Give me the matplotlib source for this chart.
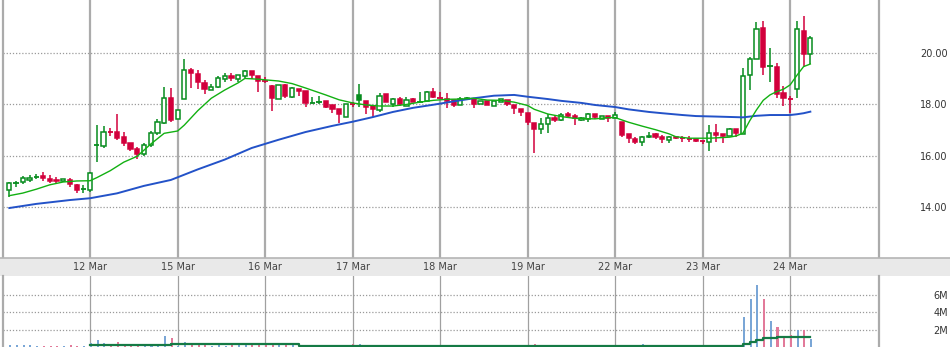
import matplotlib
matplotlib.use("Agg")
import matplotlib.pyplot as plt
import matplotlib.transforms as mtransforms
from matplotlib.patches import Rectangle

# 30-minute candles, 13 per day (first day partial)
opens = [14.66, 14.94, 14.97, 15.05, 15.19, 15.23, 15.11, 15.05, 15.01, 15.06, 14.85, 14.70,
         14.67, 16.42, 16.39, 16.92, 16.91, 16.74, 16.51, 16.26, 16.06, 16.40, 16.87, 17.26, 18.23,
         17.41, 18.19, 19.33, 19.17, 18.82, 18.56, 18.68, 18.98, 19.11, 18.98, 19.11, 19.30, 19.11,
         18.90, 18.71, 18.20, 18.75, 18.29, 18.60, 18.53, 18.06, 18.10, 18.13, 17.95, 17.80, 17.52,
         17.99, 18.35, 18.13, 17.93, 17.76, 18.40, 18.01, 18.20, 17.94, 18.19, 18.10, 18.14, 18.46,
         18.25, 18.19, 18.15, 17.96, 18.26, 18.19, 18.00, 18.13, 17.93,
         18.10, 18.15, 17.97, 17.82, 17.66, 17.27, 17.03, 17.22, 17.45, 17.38, 17.63, 17.54, 17.38,
         17.43, 17.61, 17.43, 17.54, 17.48, 17.31, 16.86, 16.63, 16.52, 16.78, 16.83, 16.73, 16.62,
         16.73, 16.67, 16.66, 16.66, 16.56, 16.52, 16.88, 16.85, 16.78, 17.03, 16.86, 19.15, 19.77,
         20.95, 19.47, 19.46, 18.42, 18.20, 18.58, 20.84, 19.95]
highs = [14.99, 15.01, 15.22, 15.24, 15.28, 15.37, 15.27, 15.19, 15.09, 15.14, 14.91, 14.85,
         15.37, 17.19, 17.16, 17.07, 17.62, 16.92, 16.51, 16.33, 16.48, 16.95, 17.42, 18.66, 18.62,
         17.78, 19.76, 19.39, 19.33, 18.94, 18.77, 19.11, 19.20, 19.22, 19.13, 19.33, 19.30, 19.11,
         19.07, 18.75, 18.75, 18.78, 18.67, 18.60, 18.53, 18.27, 18.31, 18.13, 17.95, 17.80, 18.00,
         18.10, 18.78, 18.13, 17.93, 18.42, 18.40, 18.23, 18.27, 18.27, 18.23, 18.46, 18.51, 18.62,
         18.46, 18.42, 18.15, 18.29, 18.29, 18.19, 18.13, 18.13, 18.13,
         18.22, 18.15, 17.97, 17.82, 17.66, 17.27, 17.45, 17.62, 17.54, 17.66, 17.71, 17.62, 17.50,
         17.64, 17.61, 17.55, 17.54, 17.71, 17.31, 16.86, 16.73, 16.77, 16.92, 16.90, 16.81, 16.77,
         16.78, 16.77, 16.77, 16.66, 16.58, 17.19, 17.23, 16.85, 17.07, 17.03, 19.39, 19.84, 21.20,
         21.23, 20.17, 19.60, 18.72, 18.31, 21.23, 21.42, 20.64]
lows = [14.39, 14.80, 14.91, 14.97, 15.10, 15.03, 14.93, 14.91, 14.99, 14.79, 14.57, 14.57,
        14.60, 15.77, 16.29, 16.77, 16.61, 16.39, 16.20, 15.86, 15.99, 16.35, 16.81, 17.23, 17.32,
        17.41, 18.19, 18.64, 18.59, 18.38, 18.55, 18.62, 18.87, 18.91, 18.85, 19.03, 18.98, 18.49,
        18.84, 17.75, 18.20, 18.23, 18.23, 18.33, 17.90, 18.06, 18.00, 17.87, 17.67, 17.26, 17.52,
        17.90, 17.88, 17.61, 17.52, 17.69, 18.10, 17.90, 17.94, 17.94, 18.08, 18.10, 18.14, 18.23,
        18.25, 17.84, 17.90, 17.96, 18.16, 17.87, 18.00, 17.97, 17.93,
        18.10, 17.94, 17.62, 17.54, 17.19, 16.12, 16.84, 16.90, 17.30, 17.35, 17.50, 17.19, 17.36,
        17.30, 17.43, 17.43, 17.30, 17.48, 16.74, 16.51, 16.46, 16.38, 16.70, 16.65, 16.51, 16.51,
        16.64, 16.55, 16.55, 16.53, 16.44, 16.20, 16.52, 16.51, 16.78, 16.74, 16.86, 18.55, 19.77,
        19.13, 18.87, 18.23, 17.94, 17.66, 18.23, 19.43, 19.56]
closes = [14.94, 14.94, 15.13, 15.15, 15.19, 15.13, 15.03, 15.02, 15.09, 14.91, 14.67, 14.70,
          15.32, 16.42, 16.93, 16.92, 16.70, 16.48, 16.26, 16.08, 16.42, 16.87, 17.31, 18.23, 17.39,
          17.78, 19.33, 19.22, 18.87, 18.60, 18.67, 19.01, 19.08, 19.01, 19.13, 19.30, 19.13, 18.91,
          18.90, 18.23, 18.75, 18.33, 18.62, 18.53, 18.06, 18.06, 18.10, 17.90, 17.82, 17.62, 18.00,
          17.99, 18.16, 17.90, 17.82, 18.33, 18.10, 18.19, 18.00, 18.18, 18.08, 18.10, 18.46, 18.29,
          18.25, 18.13, 17.97, 18.19, 18.20, 18.00, 18.13, 17.97, 18.13,
          18.19, 18.00, 17.87, 17.71, 17.32, 17.04, 17.22, 17.45, 17.38, 17.57, 17.53, 17.45, 17.46,
          17.61, 17.52, 17.53, 17.48, 17.58, 16.81, 16.68, 16.52, 16.72, 16.73, 16.71, 16.65, 16.73,
          16.68, 16.67, 16.66, 16.59, 16.56, 16.87, 16.81, 16.78, 17.03, 16.87, 19.08, 19.74, 20.91,
          19.46, 19.47, 18.40, 18.25, 18.20, 20.91, 19.96, 20.56]

# volume in millions
volumes = [0.23, 0.23, 0.23, 0.23, 0.12, 0.12, 0.12, 0.12, 0.12, 0.23, 0.12, 0.12,
           0.45, 0.80, 0.45, 0.34, 0.57, 0.34, 0.15, 0.15, 0.15, 0.34, 0.34, 1.25, 1.00,
           0.15, 0.57, 0.45, 0.26, 0.26, 0.11, 0.26, 0.11, 0.26, 0.26, 0.26, 0.26, 0.26,
           0.26, 0.45, 0.26, 0.26, 0.26, 0.12, 0.12, 0.10, 0.12, 0.12, 0.10, 0.12, 0.12,
           0.34, 0.34, 0.12, 0.10, 0.12, 0.12, 0.10, 0.12, 0.10, 0.12, 0.12, 0.10, 0.12,
           0.15, 0.12, 0.10, 0.12, 0.10, 0.12, 0.10, 0.12, 0.10,
           0.12, 0.10, 0.12, 0.12, 0.10, 0.34, 0.12, 0.10, 0.12, 0.10, 0.12, 0.10, 0.12,
           0.10, 0.12, 0.10, 0.12, 0.10, 0.15, 0.12, 0.10, 0.34, 0.12, 0.10, 0.12, 0.10,
           0.12, 0.10, 0.12, 0.10, 0.12, 0.15, 0.12, 0.10, 0.12, 0.12, 3.40, 5.55, 7.13,
           5.55, 2.94, 2.26, 1.10, 1.36, 2.00, 2.00, 0.90]

# short (green) and long (blue) moving averages, read at candle indices
ma_short_idx = [0, 2, 4, 6, 8, 10, 12, 13, 15, 17, 19, 21, 23, 25, 26, 28, 30, 32, 34, 35, 37,
                40, 42, 44, 47, 49, 51, 53, 55, 57, 59, 61, 63, 65, 67, 69, 71, 73, 75, 77, 78,
                80, 82, 84, 87, 89, 90, 92, 94, 96, 98, 99, 101, 104, 107, 108, 109, 110, 111,
                112, 113, 114, 115, 116, 117, 118, 119]
ma_short = [14.45, 14.55, 14.70, 14.87, 14.98, 15.02, 15.03, 15.15, 15.42, 15.75, 15.98, 16.45,
            16.87, 16.96, 17.19, 17.75, 18.23, 18.55, 18.83, 19.00, 18.97, 18.90, 18.80, 18.63,
            18.36, 18.17, 18.05, 17.97, 17.93, 17.93, 17.99, 18.08, 18.15, 18.19, 18.20, 18.23,
            18.16, 18.15, 18.08, 17.95, 17.80, 17.62, 17.52, 17.45, 17.43, 17.48, 17.48, 17.30,
            17.15, 17.01, 16.85, 16.74, 16.68, 16.68, 16.72, 16.77, 16.88, 17.36, 17.78, 18.15,
            18.36, 18.49, 18.58, 18.75, 19.12, 19.46, 19.56]
ma_long_idx = [0, 4, 9, 12, 16, 20, 24, 28, 32, 36, 40, 44, 48, 51, 54, 57, 60, 63, 66, 69, 72,
               75, 77, 80, 82, 85, 87, 90, 92, 95, 97, 100, 102, 105, 109, 111, 113, 116, 117,
               118, 119]
ma_long = [13.97, 14.13, 14.28, 14.35, 14.54, 14.83, 15.06, 15.47, 15.85, 16.30, 16.62, 16.92,
           17.16, 17.32, 17.50, 17.70, 17.86, 17.98, 18.11, 18.23, 18.33, 18.36, 18.29, 18.20,
           18.13, 18.05, 17.97, 17.89, 17.80, 17.70, 17.65, 17.58, 17.54, 17.52, 17.49, 17.55,
           17.58, 17.58, 17.61, 17.65, 17.71]

# average volume (step line)
vol_avg_idx = [12, 24, 43, 109, 110, 111, 112, 114, 119]
vol_avg = [0.19, 0.30, 0.15, 0.34, 0.57, 0.80, 0.98, 1.09, 1.09]

day_idx = [12, 25, 38, 51, 64, 77, 90, 103, 116]
day_labels = ["12 Mar", "15 Mar", "16 Mar", "17 Mar", "18 Mar", "19 Mar", "22 Mar", "23 Mar", "24 Mar"]
price_ticks = [14, 16, 18, 20]
vol_ticks = [2, 4, 6]

GREEN = "#078c1e"
RED = "#d2003c"
W, H = 950, 347


def rect(x0, y0, x1, y1):
    return [x0 / W, 1 - y1 / H, (x1 - x0) / W, (y1 - y0) / H]


fig = plt.figure(figsize=(W / 100, H / 100), dpi=100)
ax_p = fig.add_axes(rect(3, 0, 879, 258))
ax_d = fig.add_axes(rect(0, 258, 950, 276))
ax_v = fig.add_axes(rect(3, 276, 879, 347))

xmin, xmax = -0.94, 129.2
n = len(closes)

# --- price panel ---
for y in price_ticks:
    ax_p.axhline(y, color="#9a9a9a", lw=0.9, ls=(0, (1, 1.5)), zorder=1)
for d in day_idx:
    ax_p.axvline(d, color="#ababab", lw=1.6, zorder=1)

bw = 0.62
colors = []
for i in range(n):
    o, h, l, c = opens[i], highs[i], lows[i], closes[i]
    prev = closes[i - 1] if i > 0 else o
    col = GREEN if c >= prev else RED
    colors.append(col)
    ax_p.vlines(i, l, h, color=col, lw=1.1, zorder=3)
    if c > o:
        ax_p.add_patch(Rectangle((i - bw / 2, o), bw, c - o, facecolor="white",
                                 edgecolor=col, lw=1.1, zorder=4))
    elif c < o:
        ax_p.add_patch(Rectangle((i - bw / 2, c), bw, o - c, facecolor=col,
                                 edgecolor=col, lw=1.1, zorder=4))
    else:
        ax_p.hlines(c, i - bw / 2 - 0.08, i + bw / 2 + 0.08, color=col, lw=1.3, zorder=4)

ax_p.plot(ma_long_idx, ma_long, color="#2352c8", lw=1.4, zorder=5)
ax_p.plot(ma_short_idx, ma_short, color="#12b012", lw=1.0, zorder=5)

ax_p.set_xlim(xmin, xmax)
ax_p.set_ylim(12.03, 22.045)
ax_p.set_yticks(price_ticks)
ax_p.set_yticklabels([f"{v:.2f}" for v in price_ticks])
ax_p.set_xticks([])

# --- volume panel ---
for y in vol_ticks:
    ax_v.axhline(y, color="#9a9a9a", lw=0.9, ls=(0, (1, 1.5)), zorder=1)
for d in day_idx:
    ax_v.axvline(d, color="#a0a0a0", lw=0.9, zorder=1)
vcol = ["#7aa6d6" if c == GREEN else "#e27a9a" for c in colors]
ax_v.bar([i + 0.12 for i in range(n)], volumes, width=0.3, color=vcol, zorder=2)
ax_v.step(vol_avg_idx, vol_avg, where="post", color="#157a45", lw=1.6, zorder=3)
ax_v.set_xlim(xmin, xmax)
ax_v.set_ylim(0, 8.13)
ax_v.set_yticks(vol_ticks)
ax_v.set_yticklabels([f"{v}M" for v in vol_ticks])
ax_v.set_xticks([])

for ax in (ax_p, ax_v):
    ax.yaxis.tick_right()
    ax.tick_params(axis="y", length=0, pad=49.5, labelsize=7, labelcolor="#333333")
    for lbl in ax.get_yticklabels():
        lbl.set_horizontalalignment("right")
    for s in ("top", "bottom"):
        ax.spines[s].set_visible(False)
    ax.spines["left"].set_color("#ababab")
    ax.spines["left"].set_linewidth(1.6)
    ax.spines["right"].set_color("#ababab")
    ax.spines["right"].set_linewidth(1.6)

# --- date band ---
ax_d.set_facecolor("#e9e9e9")
ax_d.set_xticks([])
ax_d.set_yticks([])
for s in ("left", "right", "bottom"):
    ax_d.spines[s].set_visible(False)
ax_d.spines["top"].set_color("#b5b5b5")
ax_d.spines["top"].set_linewidth(1.2)
trans = mtransforms.blended_transform_factory(ax_p.transData, ax_d.transAxes)
for d, lab in zip(day_idx, day_labels):
    ax_d.text(d, 0.5, lab, transform=trans, ha="center", va="center",
              fontsize=7, color="#444444")

fig.savefig("out.png", dpi=100)
